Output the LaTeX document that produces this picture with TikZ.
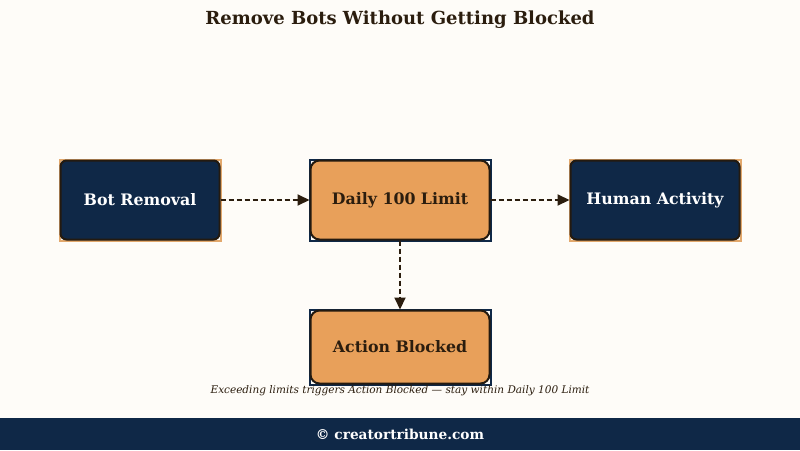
\documentclass[tikz,border=0pt]{standalone}
\usepackage{fontspec}
\setmainfont{DejaVu Serif}
\usetikzlibrary{arrows.meta}
\definecolor{bg}{HTML}{FEFCF8}
\definecolor{navy}{HTML}{0F2847}
\definecolor{orng}{HTML}{E8A05A}
\definecolor{tan}{HTML}{E2A86C}
\definecolor{ink}{HTML}{2B1D0E}
\definecolor{edge}{HTML}{231A10}
\tikzset{
  navybox/.style={draw=edge, line width=2pt, fill=navy, rounded corners=6pt, text=white, font=\fontsize{15.8}{19}\selectfont\bfseries},
  orngbox/.style={draw=edge, line width=2pt, fill=orng, rounded corners=9pt, text=ink, font=\fontsize{15.8}{19}\selectfont\bfseries},
  tanframe/.style={draw=tan, line width=2pt},
  navyframe/.style={draw=navy, line width=2pt},
  flow/.style={draw=ink, line width=2pt, dash pattern=on 5pt off 3pt, -{Triangle[length=12pt,width=11pt]}},
}
\begin{document}
\begin{tikzpicture}[x=1pt,y=-1pt]
\useasboundingbox (0,0) rectangle (800,450);
\fill[bg] (0,0) rectangle (800,450);
\fill[navy] (0,418) rectangle (800,450);
\node[text=white, font=\fontsize{13.7}{16}\selectfont\bfseries] (foot) at (400,434) {© creatortribune.com};
\node[text=ink, font=\fontsize{18}{22}\selectfont\bfseries] (title) at (400,20) {Remove Bots Without Getting Blocked};
% frames behind
\draw[tanframe] (59.5,159.5) rectangle (220.5,240.5);
\draw[tanframe] (569.5,159.5) rectangle (740.5,240.5);
\draw[navyframe] (309.5,159.5) rectangle (490.5,240.5);
\draw[navyframe] (309.5,309.5) rectangle (490.5,384.5);
% boxes
\node[navybox, minimum width=159pt, minimum height=79pt] (bot) at (140,200) {Bot Removal};
\node[navybox, minimum width=169pt, minimum height=79pt] (human) at (655,200) {Human Activity};
\node[orngbox, minimum width=179pt, minimum height=79pt] (daily) at (400,200) {Daily 100 Limit};
\node[orngbox, minimum width=179pt, minimum height=73pt] (block) at (400,347) {Action Blocked};
\draw[flow] (bot.east) -- (daily.west);
\draw[flow] (daily.east) -- (human.west);
\draw[flow] (daily.south) -- (block.north);
\node[text=ink, font=\fontsize{10.5}{13}\selectfont\itshape] (cap) at (400,391) {Exceeding limits triggers Action Blocked — stay within Daily 100 Limit};
\end{tikzpicture}
\end{document}
